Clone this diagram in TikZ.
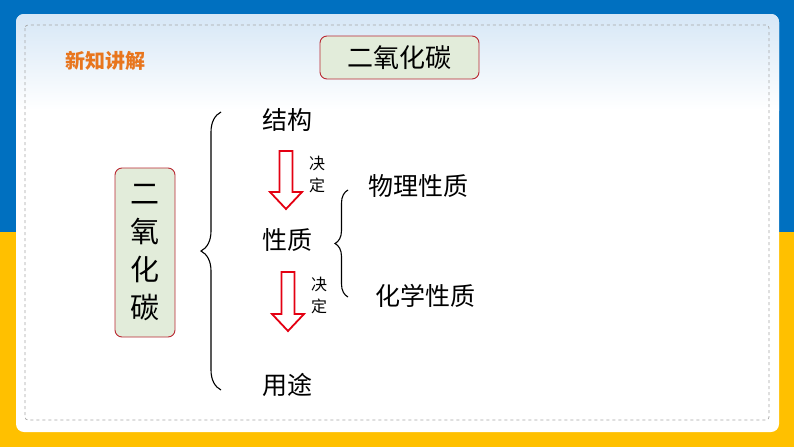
\documentclass[tikz,border=0pt]{standalone}
\usepackage{fontspec}
\setmainfont{Noto Sans CJK SC}
\usetikzlibrary{decorations.pathreplacing}

\definecolor{bandblue}{RGB}{0,112,192}
\definecolor{bandyellow}{RGB}{255,192,0}
\definecolor{boxgreen}{RGB}{226,236,218}
\definecolor{boxred}{RGB}{185,40,50}
\definecolor{titleorange}{RGB}{232,118,30}
\definecolor{skyblue}{RGB}{214,231,246}
\definecolor{arrowred}{RGB}{228,0,18}

\tikzset{
  namebox/.style={draw=boxred, fill=boxgreen, rounded corners=7pt, line width=0.9pt},
  item/.style={font=\fontsize{25}{25}\selectfont, inner sep=0pt},
  decide/.style={font=\fontsize{16}{22}\selectfont, align=center, inner sep=0pt},
  arrowline/.style={draw=arrowred, fill=white, line width=1.8pt},
  bracket/.style={decorate, decoration={brace, amplitude=#1}, line width=1.1pt}
}

% hollow block arrow pointing down: x, top, tip
\newcommand{\downblock}[3]{%
  \draw[arrowline] (#1-6.5,#2) -- (#1+6.5,#2) -- (#1+6.5,#3-17) -- (#1+16,#3-17)
    -- (#1,#3) -- (#1-16,#3-17) -- (#1-6.5,#3-17) -- cycle;}

\begin{document}
\begin{tikzpicture}[x=1pt,y=-1pt]
    \useasboundingbox (0,0) rectangle (794,447);
    % background bands and panel
    \fill[bandyellow] (0,0) rectangle (794,447);
    \fill[bandblue] (0,0) rectangle (794,232);
    \fill[white, rounded corners=8pt] (16,14) rectangle (779,432);
    \begin{scope}
      \clip[rounded corners=8pt] (16,14) rectangle (779,432);
      \shade[top color=skyblue, bottom color=white] (16,14) rectangle (779,110);
    \end{scope}
    \draw[gray!70, dashed, line width=0.7pt, rounded corners=3pt] (25,25) rectangle (769,420);

    \node[text=titleorange, font=\fontsize{20}{20}\selectfont\bfseries] (tag) at (105,61) {新知讲解};
    \node[namebox, minimum width=159pt, minimum height=43pt, font=\fontsize{26}{26}\selectfont] (title) at (399.5,57.5) {二氧化碳};
    \node[namebox, minimum width=60pt, minimum height=169pt, align=center, font=\fontsize{29}{38}\selectfont] (co2) at (145,252.5) {二\\氧\\化\\碳};

    \node[item] (struct) at (287,120) {结构};
    \node[item] (prop) at (287,240) {性质};
    \node[item] (use) at (287,385) {用途};
    \node[item] (phys) at (418,186) {物理性质};
    \node[item] (chem) at (425,296) {化学性质};

    % red arrows
    \downblock{286}{151}{209}
    \downblock{288}{272}{331}
    \node[decide] (dec1) at (317,174) {决\\定};
    \node[decide] (dec2) at (319,295) {决\\定};

    % braces
    \coordinate (bigtop) at (221,112);
    \coordinate (bigbot) at (221,390);
    \coordinate (smalltop) at (348,190);
    \coordinate (smallbot) at (348,297);
    \draw[bracket=20pt] (bigbot) -- (bigtop);
    \draw[bracket=13pt] (smallbot) -- (smalltop);
\end{tikzpicture}
\end{document}
